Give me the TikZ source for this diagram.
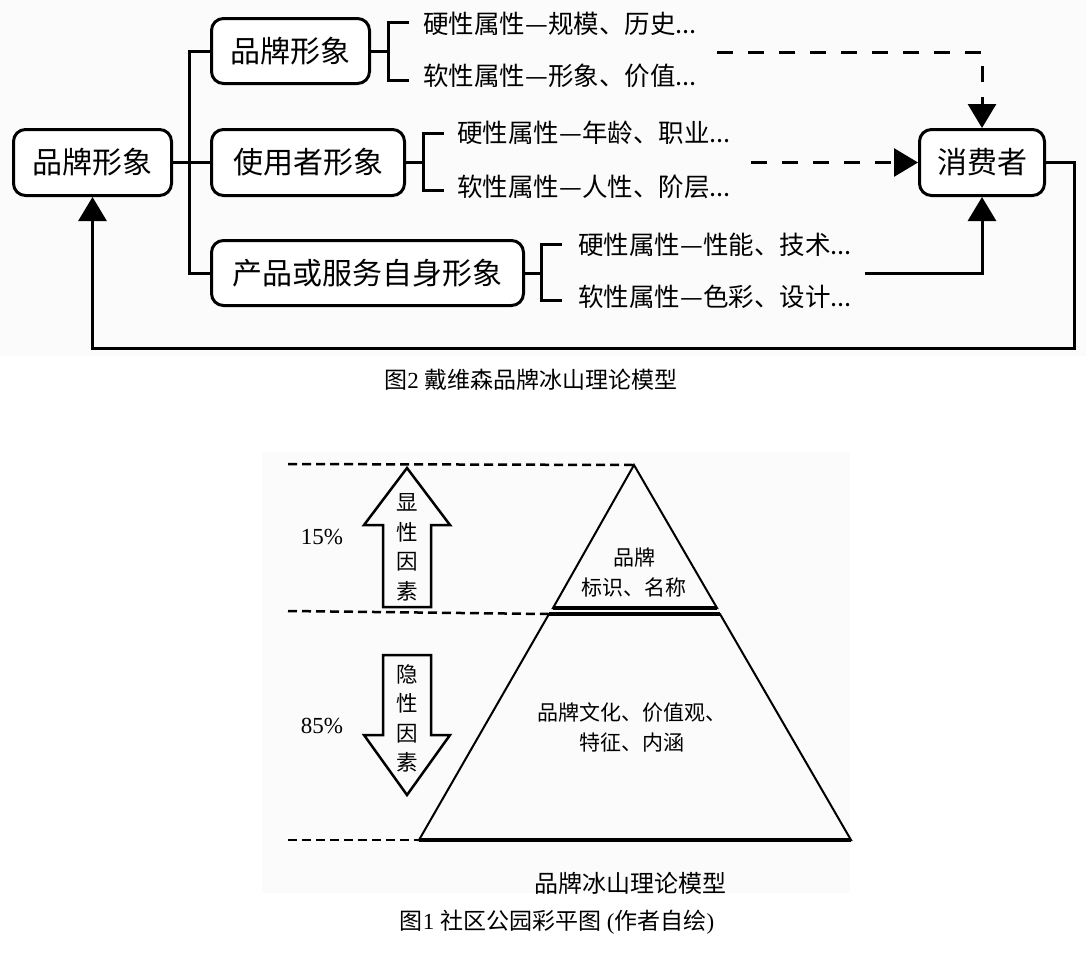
\documentclass[tikz,border=0pt]{standalone}
\usepackage{fontspec}
\setmainfont{Liberation Serif}
\newfontfamily\cjk{Noto Sans CJK SC}
\usetikzlibrary{arrows.meta}
\begin{document}
\begin{tikzpicture}[x=1pt,y=-1pt,
  box/.style={draw, line width=3pt, rounded corners=12pt, fill=white, inner sep=0pt, font=\cjk\fontsize{30}{30}\selectfont},
  attr/.style={anchor=west, inner sep=0pt, font=\cjk\fontsize{25.5}{25.5}\selectfont},
  conn/.style={line width=3pt},
  dsh/.style={line width=3pt, dash pattern=on 16pt off 15pt},
  tipa/.style={-{Triangle[length=24pt,width=28pt]}},
  bdsh/.style={line width=2.5pt, dash pattern=on 9pt off 5pt},
  thinl/.style={line width=2pt, line join=miter},
  thickl/.style={line width=4pt},
  btxt/.style={inner sep=0pt, align=center, font=\cjk\fontsize{21}{30}\selectfont},
  vtxt/.style={inner sep=0pt, align=center, font=\cjk\fontsize{21.5}{29.5}\selectfont},
  pct/.style={inner sep=0pt, font=\fontsize{23}{23}\selectfont},
  captxt/.style={inner sep=0pt, font=\fontsize{23}{23}\selectfont}
]
\useasboundingbox (0,0) rectangle (1086,953);
\fill[black!1.5] (0,0) rectangle (1086,356);
\fill[black!1.5] (262,452) rectangle (850,893);

% ---------- top diagram ----------
\node[box, minimum width=158pt, minimum height=66pt] (root) at (92.5,162.5) {品牌形象};
\node[box, minimum width=158pt, minimum height=65pt] (b2) at (290.5,51) {品牌形象};
\node[box, minimum width=193pt, minimum height=66pt] (b3) at (308,162.5) {使用者形象};
\node[box, minimum width=312pt, minimum height=65pt] (b4) at (367.5,273) {产品或服务自身形象};
\node[box, minimum width=125pt, minimum height=66pt] (cons) at (982,162.5) {消费者};

\coordinate (tk) at (189.5,162.5);
\draw[conn] (root.east) -- (b3.west);
\draw[conn] (b2.west) -| (tk) |- (b4.west);

% brackets
\coordinate (k2) at (388,51);
\coordinate (k2a) at (409,22);
\coordinate (k2b) at (409,80);
\draw[conn] (b2.east) -- (k2);
\draw[conn] (k2a) -- (388,22) -- (388,80) -- (k2b);

\coordinate (k3) at (423,162.5);
\coordinate (k3a) at (444,133);
\coordinate (k3b) at (444,190);
\draw[conn] (b3.east) -- (k3);
\draw[conn] (k3a) -- (423,133) -- (423,190) -- (k3b);

\coordinate (k4) at (541,273);
\coordinate (k4a) at (562,244);
\coordinate (k4b) at (562,300);
\draw[conn] (b4.east) -- (k4);
\draw[conn] (k4a) -- (541,244) -- (541,300) -- (k4b);

\node[attr] (a1) at (423,24) {硬性属性—规模、历史...};
\node[attr] (a2) at (423,76) {软性属性—形象、价值...};
\node[attr] (a3) at (457,133) {硬性属性—年龄、职业...};
\node[attr] (a4) at (457,187) {软性属性—人性、阶层...};
\node[attr] (a5) at (578,245) {硬性属性—性能、技术...};
\node[attr] (a6) at (578,297) {软性属性—色彩、设计...};

% arrows to consumer
\coordinate (d1) at (717,52);
\coordinate (d2) at (751,162.5);
\coordinate (s3) at (865,273);
\draw[dsh, tipa] (d1) -| (cons.north);
\draw[dsh, tipa] (d2) -- (cons.west);
\draw[conn, tipa] (s3) -| (cons.south);

% feedback
\coordinate (fb) at (1074,348);
\draw[conn, tipa, line join=miter] (cons.east) -| (fb) -| (root.south);

\node[captxt] (c2) at (531,380) {{\cjk 图}2 {\cjk 戴维森品牌冰山理论模型}};

% ---------- bottom diagram ----------
\coordinate (apex) at (634,465);
\coordinate (tl) at (553,608);
\coordinate (tr) at (717,608);
\coordinate (zl) at (549,614);
\coordinate (zr) at (720,614);
\coordinate (bl) at (419,840);
\coordinate (br) at (851,840);

\draw[bdsh] (288,464) -- (apex);
\draw[bdsh] (288,611) -- (zl);
\draw[bdsh] (288,840) -- (bl);

\draw[thinl] (apex) -- (tr) -- (tl) -- cycle;
\draw[thickl] (tl) -- (tr);
\draw[thinl] (zl) -- (zr) -- (br) -- (bl) -- cycle;
\draw[thickl] (zl) -- (zr);
\draw[thickl] (bl) -- (br);

% up arrow
\draw[line width=2.5pt, line join=miter] (383,607) -- (383,525) -- (364,525) -- (407,468) -- (450,525) -- (431,525) -- (431,607) -- cycle;
% down arrow
\draw[line width=2.5pt, line join=miter] (383,655) -- (431,655) -- (431,735) -- (450,735) -- (407,795) -- (364,735) -- (383,735) -- cycle;

\node[vtxt] (up) at (407,547.5) {显\\性\\因\\素};
\node[vtxt] (dn) at (407,718.5) {隐\\性\\因\\素};

\node[pct] (p15) at (322,537) {15\%};
\node[pct] (p85) at (322,726) {85\%};

\node[btxt] (t1) at (634,572) {品牌\\标识、名称};
\node[btxt] (t2) at (632,727.5) {品牌文化、价值观、\\特征、内涵};

\node[inner sep=0pt, font=\cjk\fontsize{24}{24}\selectfont] (lbl) at (630,883) {品牌冰山理论模型};

\node[captxt] (c1) at (557,922) {{\cjk 图}1 {\cjk 社区公园彩平图} ({\cjk 作者自绘})};
\end{tikzpicture}
\end{document}
